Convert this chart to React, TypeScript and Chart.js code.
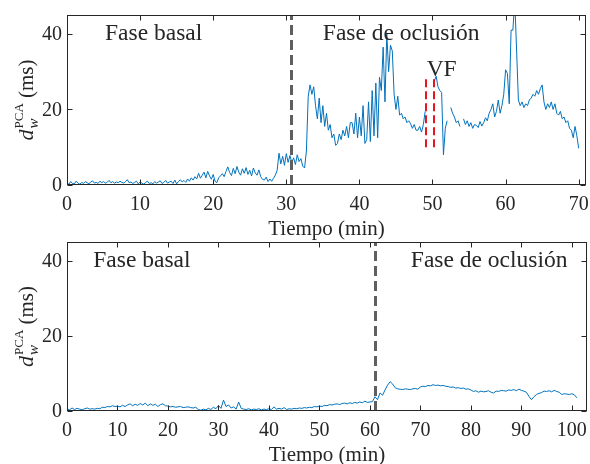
import React, { useEffect, useRef } from "react";
import { Chart, registerables } from "chart.js";

Chart.register(...registerables);

// ---------------- data ----------------
const TOP_STEP = 0.25; // min between samples (top panel)
const topValues: (number | null)[] = [
  0.6, 0.2, 0.9, 0.4,
  0.3, 1.0, 0.5, 0.2,
  0.7, 0.4, 0.9, 0.6,
  0.3, 0.8, 1.1, 0.5,
  0.7, 0.4, 1.0, 0.6,
  0.9, 0.5, 0.7, 1.2,
  0.6, 0.9, 0.5, 0.8,
  0.6, 1.0, 0.7, 0.5,
  0.9, 1.4, 0.6, 0.8,
  0.4, 0.7, 1.0, 0.3,
  0.8, 0.5, 0.2, 0.7,
  1.0, 0.4, 0.6, 0.3,
  0.9, 0.5, 0.8, 1.1,
  0.4, 0.7, 1.2, 0.5,
  0.8, 1.0, 0.4, 1.3,
  0.3, 0.9, 1.4, 0.8,
  1.2, 0.7, 1.6, 1.0,
  1.9, 1.3, 2.2, 1.6,
  3.1, 1.8, 2.6, 3.4,
  1.9, 3.6, 2.4, 1.5,
  2.8, 1.0, 0.6, 1.9,
  2.4, 3.0, 2.2, 3.6,
  4.8, 3.3, 2.5, 4.4,
  3.0, 4.9, 3.4, 2.6,
  4.3, 3.1, 4.6, 2.8,
  3.9, 2.4, 4.5, 3.2,
  2.6, 4.0, 2.2, 1.5,
  1.3, 2.1, 0.9, 1.6,
  1.0, 1.8, 2.6, 3.9,
  8.4, 5.6, 7.6, 5.2,
  8.3, 6.0, 7.8, 5.9,
  7.2, 5.4, 8.0, 6.2,
  7.0, 5.0, 4.5, 9.0,
  23.5, 26.5, 24.0, 26.0,
  21.0, 17.5, 23.0, 16.5,
  21.0, 15.5, 19.0, 14.5,
  16.0, 12.5, 13.5, 10.5,
  11.0, 13.5, 12.0, 14.5,
  13.0, 15.5, 12.5, 16.5,
  16.5, 13.5, 19.0, 12.5,
  18.0, 13.0, 21.0, 11.0,
  12.0, 22.0, 11.5, 25.0,
  13.0, 27.0, 12.5, 28.5,
  25.0, 36.5, 22.0, 40.0,
  30.0, 37.0, 35.5, 24.0,
  20.0, 23.5, 18.5, 19.0,
  17.5, 18.0, 16.5, 17.0,
  16.2, 15.0, 16.0, 14.5,
  14.5, 15.5, 14.0, 16.0,
  19.5, null, null, null,
  null, 27.5, 28.8, 26.0,
  25.0, 24.5, 8.0, 15.0,
  17.0, null, 20.5, 19.0,
  18.0, 16.5, 17.0, 15.5,
  null, 17.5, 16.0, 17.0,
  15.5, 16.5, 15.0, 16.0,
  15.8, 15.2, 16.8, 15.6,
  16.5, 17.8, 17.0, 19.0,
  20.0, 21.5, 18.0, 19.5,
  22.5, 19.0, 21.0, 24.0,
  30.5, 29.5, 21.5, 41.0,
  41.0, 49.0, 36.0, 22.5,
  21.0, 22.0, 20.5, 21.5,
  21.0, 22.5, 23.0, 24.0,
  23.5, 25.0, 24.0, 25.5,
  26.5, 22.0, 20.0, 21.5,
  20.5, 22.0, 20.0, 21.5,
  19.0, 18.5, 19.5, 17.5,
  18.0, 16.5, 17.0, 15.0,
  14.5, 12.5, 15.5, 13.0,
  9.7,
];

const BOTTOM_STEP = 0.5; // min between samples (bottom panel)
const bottomValues: number[] = [
  0.6, 0.3, 0.8, 0.4, 0.7, 0.5, 0.3, 0.6, 0.8, 0.5,
  0.6, 0.5, 0.7, 0.6, 1.0, 0.9, 1.2, 1.1, 1.4, 1.2,
  1.3, 1.1, 1.5, 1.2, 1.6, 1.9, 1.4, 1.8, 1.5, 2.0,
  1.6, 2.1, 1.4, 1.9, 1.5, 1.8, 1.2, 1.7, 1.9, 1.4,
  1.3, 1.1, 1.2, 1.0, 1.1, 1.2, 0.9, 1.0, 1.1, 0.9,
  0.8, 1.0, 0.4, 0.2, 0.5, 0.3, 0.7, 0.4, 1.0, 0.6,
  1.5, 0.7, 2.9, 1.2, 1.6, 0.8, 1.1, 0.5, 2.4, 0.7,
  0.5, 0.4, 0.6, 0.3, 0.5, 0.4, 0.6, 0.3, 0.5, 0.4,
  0.6, 0.4, 1.1, 0.5, 0.7, 0.5, 0.9, 0.4, 0.6, 0.5,
  0.7, 0.6, 0.8, 0.7, 0.9, 0.8, 1.0, 0.9, 1.2, 1.1,
  1.3, 1.2, 1.5, 1.4, 1.7, 1.6, 1.8, 1.9, 1.7, 2.0,
  2.1, 1.9, 2.2, 2.0, 2.3, 2.1, 2.4, 2.2, 2.6, 2.3,
  2.4, 2.5, 3.8, 3.0, 4.8, 4.2, 5.6, 6.9, 7.8, 7.2,
  6.2, 5.9, 5.8, 5.7, 5.9, 5.8, 5.7, 5.9, 6.0, 5.8,
  6.4, 6.6, 6.5, 6.8, 6.7, 7.0, 6.8, 6.9, 6.7, 6.8,
  6.6, 6.5, 6.3, 6.4, 6.1, 6.2, 6.0, 6.1, 5.8, 5.9,
  5.6, 5.2, 5.4, 5.0, 5.3, 5.1, 5.2, 5.4, 5.0, 4.8,
  5.3, 5.2, 5.5, 5.4, 5.3, 5.6, 5.5, 5.7, 5.4, 5.8,
  5.5, 5.3, 5.0, 3.9, 3.0, 3.8, 4.4, 4.7, 4.9, 5.3,
  5.2, 5.4, 5.1, 5.5, 5.2, 5.0, 4.4, 4.6, 4.5, 4.4,
  4.6, 4.3, 3.5,
];

const topXTicks = [0, 10, 20, 30, 40, 50, 60, 70];
const bottomXTicks = [0, 10, 20, 30, 40, 50, 60, 70, 80, 90, 100];
const yTicks = [0, 20, 40];
const topXMax = 71;
const bottomXMax = 103;
const yMax = 45;
const topOnset = 30.6; // start of occlusion (top)
const bottomOnset = 61.1; // start of occlusion (bottom)
const vfStart = 49.1;
const vfEnd = 50.2;
const vfRange = [10, 28.4];

// ---------------- styling ----------------
const FONT = "'Liberation Serif', 'Times New Roman', serif";
const INK = "#262626";
const LINE_BLUE = "#0072BD";
const W = 590;
const H = 464;

type Ann = { text: string; x: number; y: number };
type VLine = { x: number; y0: number; y1: number; color: string; width: number; dash: number[] };

function makeDecor(xTicks: number[], anns: Ann[], vlines: VLine[]) {
  return {
    id: "decor",
    afterDatasetsDraw(chart: any) {
      const { ctx, chartArea: a, scales } = chart;
      const x = scales.x;
      const y = scales.y;
      ctx.save();
      // dashed vertical markers
      for (const v of vlines) {
        ctx.strokeStyle = v.color;
        ctx.lineWidth = v.width;
        ctx.setLineDash(v.dash);
        const px = Math.round(x.getPixelForValue(v.x)) + (v.width % 2 ? 0.5 : 0);
        ctx.beginPath();
        ctx.moveTo(px, y.getPixelForValue(v.y0));
        ctx.lineTo(px, y.getPixelForValue(v.y1));
        ctx.stroke();
      }
      ctx.setLineDash([]);
      // box
      const L = Math.round(a.left) + 0.5;
      const R = Math.round(a.right) - 0.5;
      const T = Math.round(a.top) + 0.5;
      const B = Math.round(a.bottom) - 0.5;
      ctx.strokeStyle = INK;
      ctx.lineWidth = 1;
      ctx.strokeRect(L, T, R - L, B - T);
      // ticks
      const TL = 5;
      ctx.beginPath();
      for (const t of xTicks) {
        const px = Math.round(x.getPixelForValue(t)) + 0.5;
        ctx.moveTo(px, B);
        ctx.lineTo(px, B - TL);
        ctx.moveTo(px, T);
        ctx.lineTo(px, T + TL);
      }
      for (const t of yTicks) {
        const py = Math.round(y.getPixelForValue(t)) + 0.5;
        ctx.moveTo(L, py);
        ctx.lineTo(L + TL, py);
        ctx.moveTo(R, py);
        ctx.lineTo(R - TL, py);
      }
      ctx.stroke();
      // tick labels
      ctx.fillStyle = INK;
      ctx.font = `20px ${FONT}`;
      ctx.textAlign = "center";
      ctx.textBaseline = "alphabetic";
      for (const t of xTicks) {
        ctx.fillText(String(t), x.getPixelForValue(t), a.bottom + 25);
      }
      ctx.textAlign = "right";
      ctx.textBaseline = "middle";
      for (const t of yTicks) {
        ctx.fillText(String(t), a.left - 5, y.getPixelForValue(t) + 1);
      }
      // x title
      ctx.textAlign = "center";
      ctx.textBaseline = "alphabetic";
      ctx.font = `21px ${FONT}`;
      ctx.fillText("Tiempo (min)", (a.left + a.right) / 2, a.bottom + 50);
      // y title: d_w^PCA (ms)
      ctx.save();
      ctx.translate(33, (a.top + a.bottom) / 2);
      ctx.rotate(-Math.PI / 2);
      ctx.textAlign = "left";
      const fBig = `italic 22px ${FONT}`;
      const fSub = `italic 15px ${FONT}`;
      const fSup = `13px ${FONT}`;
      const fReg = `21px ${FONT}`;
      ctx.font = fBig;
      const wd = ctx.measureText("d").width;
      ctx.font = fSub;
      const ww = ctx.measureText("w").width;
      ctx.font = fSup;
      const wp = ctx.measureText("PCA").width;
      ctx.font = fReg;
      const wr = ctx.measureText(" (ms)").width;
      const total = wd + 1 + Math.max(ww, wp) + wr;
      let x0 = -total / 2;
      ctx.font = fBig;
      ctx.fillText("d", x0, 0);
      ctx.font = fSub;
      ctx.fillText("w", x0 + wd + 1, 5);
      ctx.font = fSup;
      ctx.fillText("PCA", x0 + wd + 1, -10);
      ctx.font = fReg;
      ctx.fillText(" (ms)", x0 + wd + 1 + Math.max(ww, wp), 0);
      ctx.restore();
      // annotations
      ctx.font = `23.5px ${FONT}`;
      ctx.textAlign = "left";
      ctx.textBaseline = "alphabetic";
      for (const an of anns) {
        ctx.fillText(an.text, x.getPixelForValue(an.x), y.getPixelForValue(an.y));
      }
      ctx.restore();
    },
  };
}

function buildChart(
  canvas: HTMLCanvasElement,
  values: (number | null)[],
  step: number,
  xMax: number,
  xTicks: number[],
  padding: { left: number; right: number; top: number; bottom: number },
  anns: Ann[],
  vlines: VLine[]
) {
  const data = values.map((v, i) => ({ x: i * step, y: v }));
  const hideAxis = (s: any) => {
    s.width = s.isHorizontal() ? s.width : 0;
    s.height = s.isHorizontal() ? 0 : s.height;
    s.paddingLeft = 0;
    s.paddingRight = 0;
    s.paddingTop = 0;
    s.paddingBottom = 0;
  };
  return new Chart(canvas, {
    type: "line",
    data: {
      datasets: [
        {
          data: data as any,
          borderColor: LINE_BLUE,
          borderWidth: 1,
          pointRadius: 0,
          tension: 0,
          spanGaps: false,
          fill: false,
        },
      ],
    },
    options: {
      responsive: false,
      animation: false,
      events: [],
      layout: { padding },
      plugins: { legend: { display: false }, tooltip: { enabled: false }, title: { display: false } },
      scales: {
        x: {
          type: "linear",
          min: 0,
          max: xMax,
          grid: { display: false },
          border: { display: false },
          ticks: { display: false },
          afterFit: hideAxis,
        },
        y: {
          type: "linear",
          min: 0,
          max: yMax,
          grid: { display: false },
          border: { display: false },
          ticks: { display: false },
          afterFit: hideAxis,
        },
      },
    },
    plugins: [makeDecor(xTicks, anns, vlines)],
  });
}

export default function App() {
  const topRef = useRef<HTMLCanvasElement>(null);
  const botRef = useRef<HTMLCanvasElement>(null);

  useEffect(() => {
    const gray = "#5f5f5f";
    const c1 = buildChart(
      topRef.current!,
      topValues,
      TOP_STEP,
      topXMax,
      topXTicks,
      { left: 67, right: W - 586, top: 15, bottom: H - 185 },
      [
        { text: "Fase basal", x: 5.2, y: 38.5 },
        { text: "Fase de oclusión", x: 35.0, y: 38.5 },
        { text: "VF", x: 49.2, y: 28.9 },
      ],
      [
        { x: topOnset, y0: 0, y1: yMax, color: gray, width: 3, dash: [10, 5] },
        { x: vfStart, y0: vfRange[0], y1: vfRange[1], color: "#e8141e", width: 2, dash: [8, 4] },
        { x: vfEnd, y0: vfRange[0], y1: vfRange[1], color: "#e8141e", width: 2, dash: [8, 4] },
      ]
    );
    const c2 = buildChart(
      botRef.current!,
      bottomValues,
      BOTTOM_STEP,
      bottomXMax,
      bottomXTicks,
      { left: 67, right: W - 587, top: 242, bottom: H - 411 },
      [
        { text: "Fase basal", x: 5.2, y: 38.4 },
        { text: "Fase de oclusión", x: 68.1, y: 38.4 },
      ],
      [{ x: bottomOnset, y0: 0, y1: yMax, color: gray, width: 3, dash: [10, 5] }]
    );
    return () => {
      c1.destroy();
      c2.destroy();
    };
  }, []);

  const cs: React.CSSProperties = { position: "absolute", left: 0, top: 0, width: W, height: H };
  return (
    <div style={{ position: "absolute", left: 0, top: 0, width: W, height: H, background: "#fff" }}>
      <canvas ref={topRef} width={W} height={H} style={cs} />
      <canvas ref={botRef} width={W} height={H} style={cs} />
    </div>
  );
}
